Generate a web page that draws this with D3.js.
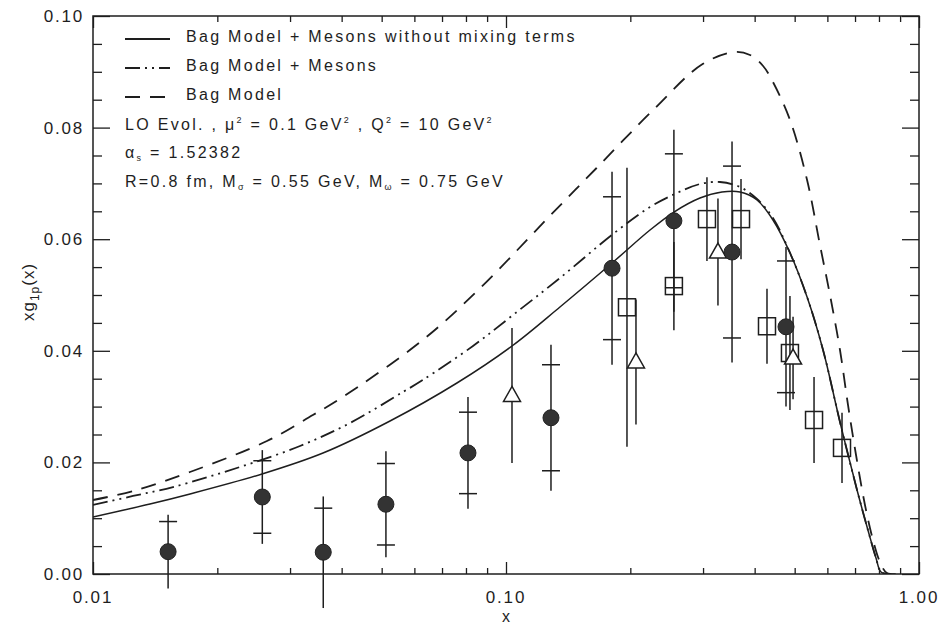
<!DOCTYPE html>
<html><head><meta charset="utf-8">
<script src="https://cdn.jsdelivr.net/npm/d3@7"></script>
<style>
body{margin:0;background:#fff}
svg{display:block}
text{font-family:"Liberation Sans",Arial,Helvetica,sans-serif;fill:#1e1e1e}
</style>
</head><body>
<svg id="chart" width="944" height="632"></svg>
<script>
// ---------- data ----------
const xTickValues = [0.01, 0.1, 1];
const xTickLabels = ["0.01", "0.10", "1.00"];
const yTickValues = [0, 0.02, 0.04, 0.06, 0.08, 0.10];
const yTickLabels = ["0.00", "0.02", "0.04", "0.06", "0.08", "0.10"];

const legendLabels = ["Bag Model + Mesons without mixing terms", "Bag Model + Mesons", "Bag Model"];

// Bag Model + Mesons without mixing terms (solid)
const solidX = [0.01, 0.01374, 0.01718, 0.02566, 0.03605, 0.05238, 0.07607, 0.1034, 0.1351, 0.1806, 0.2232, 0.2551, 0.2949, 0.3334, 0.3686, 0.4053, 0.4430, 0.4872, 0.5358, 0.5857, 0.6437, 0.7079, 0.7522, 0.7868, 0.8091, 0.851];
const solidY = [0.01022, 0.01254, 0.01434, 0.01792, 0.02168, 0.02742, 0.03423, 0.04086, 0.04785, 0.05573, 0.06165, 0.06487, 0.06738, 0.06846, 0.06846, 0.06703, 0.06344, 0.05753, 0.04964, 0.04014, 0.02724, 0.01505, 0.00789, 0.00287, 0.00036, 0.0];

// Bag Model + Mesons (dash-dot-dot)
const mesonX = [0.01, 0.0125, 0.01562, 0.02269, 0.03171, 0.04191, 0.05631, 0.06289, 0.08319, 0.1040, 0.1351, 0.1816, 0.2232, 0.2594, 0.2949, 0.3297, 0.3686, 0.4053, 0.4430, 0.4872, 0.5358, 0.5857, 0.6437, 0.7079, 0.7522, 0.7868, 0.8091, 0.851];
const mesonY = [0.01237, 0.01398, 0.01559, 0.01918, 0.02294, 0.02706, 0.03262, 0.03477, 0.04086, 0.04642, 0.05305, 0.06093, 0.06577, 0.06828, 0.06989, 0.07025, 0.06935, 0.06720, 0.06380, 0.05753, 0.04964, 0.04014, 0.02724, 0.01505, 0.00789, 0.00287, 0.00036, 0.0];

// Bag Model (dashed)
const bagX = [0.01, 0.0125, 0.01717, 0.02638, 0.03407, 0.04027, 0.06289, 0.08662, 0.1256, 0.1657, 0.2271, 0.2993, 0.3576, 0.3898, 0.4193, 0.4430, 0.4872, 0.5358, 0.5757, 0.6088, 0.6437, 0.6731, 0.7039, 0.7399, 0.7737, 0.8044, 0.8365, 0.8995];
const bagY = [0.01326, 0.01487, 0.01828, 0.02384, 0.02849, 0.03172, 0.04194, 0.05125, 0.06362, 0.07276, 0.08315, 0.09140, 0.09355, 0.09301, 0.09104, 0.08817, 0.08136, 0.07061, 0.05896, 0.05000, 0.04014, 0.03029, 0.02133, 0.01237, 0.00609, 0.00215, 0.00018, 0.0];

// Data: filled circles (with stat. cross-ticks and total error lines)
const circleX = [0.0152, 0.0257, 0.0361, 0.0512, 0.0809, 0.1285, 0.1806, 0.255, 0.3526, 0.4764];
const circleY = [0.0040, 0.0138, 0.0039, 0.0125, 0.0217, 0.0280, 0.0548, 0.0633, 0.0577, 0.0443];
const circleStat = [0.0054, 0.0065, 0.0079, 0.0073, 0.0073, 0.0095, 0.0128, 0.0120, 0.0154, 0.0118];
const circleTot = [0.0066, 0.0084, 0.0100, 0.0095, 0.0100, 0.0131, 0.0173, 0.0163, 0.0198, 0.0143];

// Data: open triangles
const triX = [0.1034, 0.2064, 0.326, 0.4955];
const triY = [0.0320, 0.0380, 0.0577, 0.0387];
const triErr = [0.0121, 0.0112, 0.0096, 0.0074];

// Data: open squares
const sqX = [0.1963, 0.255, 0.3066, 0.3707, 0.4285, 0.487, 0.557, 0.651];
const sqY = [0.0478, 0.0516, 0.0636, 0.0636, 0.0444, 0.0396, 0.0276, 0.0226];
const sqErr = [0.0250, 0.0079, 0.0075, 0.0072, 0.0067, 0.0102, 0.0077, 0.0063];

// ---------- drawing ----------
const svg = d3.select("#chart");
const L = 93, R = 919, T = 16, B = 574;
const ink = "#1e1e1e";
const x = d3.scaleLog().domain([0.01, 1]).range([L, R]);
const y = d3.scaleLinear().domain([0, 0.10]).range([B, T]);

svg.append("defs").append("clipPath").attr("id", "plotclip")
  .append("rect").attr("x", L).attr("y", T).attr("width", R - L).attr("height", B - T);

// minor tick values
const xMinor = [];
[0.01, 0.1].forEach(d => { for (let k = 2; k <= 9; k++) xMinor.push(+(d * k).toPrecision(3)); });
const yMinor = d3.range(0, 0.1001, 0.005).filter(v => Math.abs(v / 0.02 - Math.round(v / 0.02)) > 1e-6);

function styleAxis(g) {
  g.select(".domain").remove();
  g.selectAll(".tick line").attr("stroke", ink).attr("stroke-width", 1.3);
}
// bottom
svg.append("g").attr("transform", `translate(0,${B})`)
  .call(d3.axisBottom(x).tickValues(xMinor).tickSize(-6).tickFormat("")).call(styleAxis);
svg.append("g").attr("transform", `translate(0,${B})`)
  .call(d3.axisBottom(x).tickValues(xTickValues).tickSize(-12).tickFormat("")).call(styleAxis);
// top
svg.append("g").attr("transform", `translate(0,${T})`)
  .call(d3.axisTop(x).tickValues(xMinor).tickSize(-6).tickFormat("")).call(styleAxis);
svg.append("g").attr("transform", `translate(0,${T})`)
  .call(d3.axisTop(x).tickValues(xTickValues).tickSize(-12).tickFormat("")).call(styleAxis);
// left
svg.append("g").attr("transform", `translate(${L},0)`)
  .call(d3.axisLeft(y).tickValues(yMinor).tickSize(-9).tickFormat("")).call(styleAxis);
svg.append("g").attr("transform", `translate(${L},0)`)
  .call(d3.axisLeft(y).tickValues(yTickValues).tickSize(-17).tickFormat("")).call(styleAxis);
// right
svg.append("g").attr("transform", `translate(${R},0)`)
  .call(d3.axisRight(y).tickValues(yMinor).tickSize(-9).tickFormat("")).call(styleAxis);
svg.append("g").attr("transform", `translate(${R},0)`)
  .call(d3.axisRight(y).tickValues(yTickValues).tickSize(-17).tickFormat("")).call(styleAxis);

// frame
svg.append("rect").attr("x", L).attr("y", T).attr("width", R - L).attr("height", B - T)
  .attr("fill", "none").attr("stroke", ink).attr("stroke-width", 1.5);

// tick labels
svg.append("g").selectAll("text").data(xTickValues).join("text")
  .attr("x", d => x(d)).attr("y", 603).attr("text-anchor", "middle")
  .attr("font-size", 17).attr("letter-spacing", 1.8)
  .text((d, i) => xTickLabels[i]);
svg.append("g").selectAll("text").data(yTickValues).join("text")
  .attr("x", 84).attr("y", d => y(d) + 6).attr("text-anchor", "end")
  .attr("font-size", 17).attr("letter-spacing", 1.8)
  .text((d, i) => yTickLabels[i]);

// axis titles
svg.append("text").attr("x", (L + R) / 2).attr("y", 622).attr("text-anchor", "middle")
  .attr("font-size", 16).text("x");
const yl = svg.append("text").attr("transform", "translate(34,292) rotate(-90)")
  .attr("text-anchor", "middle").attr("font-size", 17).attr("letter-spacing", 1);
yl.append("tspan").text("xg");
yl.append("tspan").attr("font-size", 12).attr("dy", 5).text("1p");
yl.append("tspan").attr("dy", -5).text("(x)");

// curves
const line = d3.line().x(d => x(d[0])).y(d => y(d[1])).curve(d3.curveCatmullRom.alpha(0.5));
const curves = svg.append("g").attr("clip-path", "url(#plotclip)").attr("fill", "none").attr("stroke", ink);
curves.append("path").datum(d3.zip(bagX, bagY)).attr("d", line)
  .attr("stroke-width", 1.8).attr("stroke-dasharray", "15,10");
curves.append("path").datum(d3.zip(mesonX, mesonY)).attr("d", line)
  .attr("stroke-width", 1.8).attr("stroke-dasharray", "15,5,2,5,2,5");
curves.append("path").datum(d3.zip(solidX, solidY)).attr("d", line)
  .attr("stroke-width", 1.5);

// error bars
const eb = svg.append("g").attr("stroke", ink).attr("stroke-width", 1.5);
circleX.forEach((cx, i) => {
  eb.append("line").attr("x1", x(cx)).attr("x2", x(cx))
    .attr("y1", y(circleY[i] + circleTot[i])).attr("y2", y(circleY[i] - circleTot[i]));
  [circleY[i] + circleStat[i], circleY[i] - circleStat[i]].forEach(v => {
    if (v >= 0) eb.append("line").attr("x1", x(cx) - 9).attr("x2", x(cx) + 9)
      .attr("y1", y(v)).attr("y2", y(v));
  });
});
triX.forEach((tx, i) => {
  eb.append("line").attr("x1", x(tx)).attr("x2", x(tx))
    .attr("y1", y(triY[i] + triErr[i])).attr("y2", y(triY[i] - triErr[i]));
});
sqX.forEach((sx, i) => {
  eb.append("line").attr("x1", x(sx)).attr("x2", x(sx))
    .attr("y1", y(sqY[i] + sqErr[i])).attr("y2", y(sqY[i] - sqErr[i]));
});

// markers
svg.append("g").selectAll("rect").data(d3.zip(sqX, sqY)).join("rect")
  .attr("x", d => x(d[0]) - 8.5).attr("y", d => y(d[1]) - 8.5)
  .attr("width", 17).attr("height", 17)
  .attr("fill", "none").attr("stroke", ink).attr("stroke-width", 1.5);
svg.append("g").selectAll("path").data(d3.zip(triX, triY)).join("path")
  .attr("d", d => { const cx = x(d[0]), cy = y(d[1]); return `M${cx},${cy - 9}L${cx + 8.5},${cy + 6}L${cx - 8.5},${cy + 6}Z`; })
  .attr("fill", "#fff").attr("stroke", ink).attr("stroke-width", 1.5);
svg.append("g").selectAll("circle").data(d3.zip(circleX, circleY)).join("circle")
  .attr("cx", d => x(d[0])).attr("cy", d => y(d[1])).attr("r", 8)
  .attr("fill", "#333").attr("stroke", "#222").attr("stroke-width", 1);

// legend
const lg = svg.append("g");
const legendDash = [null, "15,5,2,5,2,5", "15,10"];
const rowY = [42, 71, 100];
legendLabels.forEach((lab, i) => {
  lg.append("line").attr("x1", 125).attr("x2", 170).attr("y1", rowY[i] - 3).attr("y2", rowY[i] - 3)
    .attr("stroke", ink).attr("stroke-width", 1.8)
    .attr("stroke-dasharray", legendDash[i]);
  lg.append("text").attr("x", 186).attr("y", rowY[i]).attr("font-size", 16)
    .attr("letter-spacing", 2.3).text(lab);
});

function richText(xp, yp, parts) {
  const t = lg.append("text").attr("x", xp).attr("y", yp).attr("font-size", 16).attr("letter-spacing", 2.3);
  let shift = 0;
  parts.forEach(([s, kind]) => {
    const ts = t.append("tspan").text(s);
    let target = 0;
    if (kind === "sup") { target = -7; ts.attr("font-size", 9); }
    if (kind === "sub") { target = 3; ts.attr("font-size", 9); }
    ts.attr("dy", target - shift);
    shift = target;
  });
}
richText(125, 130, [["LO Evol. , μ"], ["2", "sup"], [" = 0.1 GeV"], ["2", "sup"], [" , Q"], ["2", "sup"], [" = 10 GeV"], ["2", "sup"]]);
richText(125, 158, [["α"], ["s", "sub"], [" = 1.52382"]]);
richText(125, 187, [["R=0.8 fm, M"], ["σ", "sub"], [" = 0.55 GeV, M"], ["ω", "sub"], [" = 0.75 GeV"]]);
</script>
</body></html>
